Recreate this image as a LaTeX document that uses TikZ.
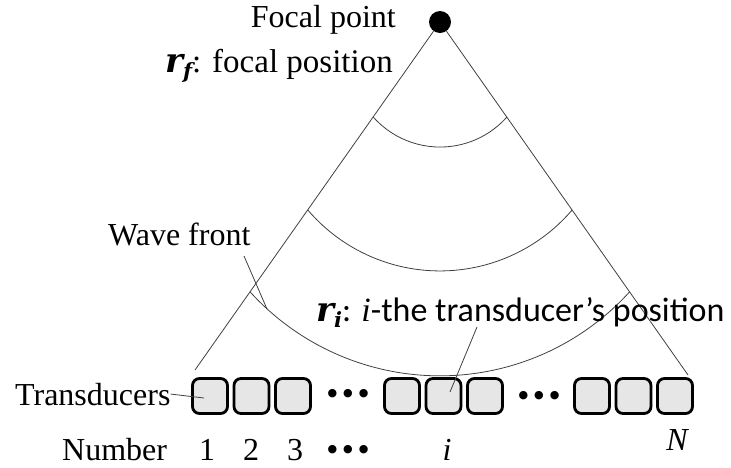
\documentclass[tikz,border=0pt]{standalone}
\usepackage{fontspec}
\setmainfont{Liberation Serif}
\newfontfamily\calib{Carlito}
\newfontfamily\mathbi{DejaVu Serif}
\newfontfamily\djv{DejaVu Sans}
\definecolor{boxfill}{HTML}{E6E6E6}
\definecolor{linegray}{HTML}{404040}
\newcommand{\vecr}[1]{{\mathbi\bfseries\itshape\fontsize{34}{34}\selectfont r}\raisebox{-6pt}{\mathbi\bfseries\itshape\fontsize{21}{21}\selectfont #1}}
\newcommand{\threedots}{●\hspace{6pt}●\hspace{6pt}●}
\begin{document}
\begin{tikzpicture}[x=1pt,y=1pt,
  thinline/.style={draw=linegray, line width=0.8pt},
  tbox/.style={draw=black, line width=2.8pt, fill=boxfill, rounded corners=7pt,
    minimum width=35pt, minimum height=35pt, inner sep=0pt},
  lbl/.style={font=\fontsize{32}{38}\selectfont, inner sep=0pt},
  sanslbl/.style={font=\calib\fontsize{34}{40}\selectfont, inner sep=0pt},
  dotrow/.style={font=\djv\fontsize{11}{12}\selectfont, inner sep=0pt, anchor=base}]
\useasboundingbox (0,0) rectangle (731,-467);

% focal point
\node[circle, fill=black, minimum size=22pt, inner sep=0pt] (focal) at (440,-22) {};
\coordinate (lend) at (195,-370);
\coordinate (rend) at (688,-375);
\draw[thinline] (focal) -- (lend);
\draw[thinline] (focal) -- (rend);

% wave fronts
\draw[thinline] (373.2,-117) arc[start angle=221.6, end angle=318.4, radius=89.4];
\draw[thinline] (307.8,-210) arc[start angle=220.5, end angle=319.5, radius=173.8];
\draw[thinline] (250.2,-292) arc[start angle=222.3, end angle=317.7, radius=256.4];

% labels top
\node[lbl, anchor=base east] (fp) at (396,-27) {Focal point};
\node[lbl, anchor=base east, font=\fontsize{33}{38}\selectfont] (rf) at (393,-72) {\vecr{f}: focal position};
\node[lbl, anchor=base west] (wf) at (108,-245) {Wave front};
\coordinate (wfstart) at (244,-256);
\coordinate (wfend) at (267,-309);
\draw[thinline] (wfstart) -- (wfend);

\node[sanslbl, anchor=base west] (ri) at (316,-321) {\vecr{i}: {\rmfamily\itshape i}-the transducer’s position};

% transducers
\node[tbox] (t1) at (210,-396) {};
\node[tbox] (t2) at (251.5,-396) {};
\node[tbox] (t3) at (293,-396) {};
\node[tbox] (ti1) at (402,-396) {};
\node[tbox] (ti) at (443.5,-396) {};
\node[tbox] (ti2) at (485,-396) {};
\node[tbox] (tn2) at (592,-396) {};
\node[tbox] (tn1) at (633.5,-396) {};
\node[tbox] (tn) at (675,-396) {};
\node[dotrow] (dA) at (348,-396.5) {\threedots};
\node[dotrow] (dB) at (539,-398.5) {\threedots};

\node[lbl, anchor=base west] (tr) at (15,-405) {Transducers};
\coordinate (trend) at (204,-398);
\draw[thinline] (tr.east) -- (trend);

\coordinate (ristart) at (477,-327);
\coordinate (riend) at (450,-392);
\draw[thinline] (ristart) -- (riend);

% numbers
\node[lbl, anchor=base west] (num) at (62,-460) {Number};
\node[lbl, anchor=base] (n1) at (207,-460) {1};
\node[lbl, anchor=base] (n2) at (251,-460) {2};
\node[lbl, anchor=base] (n3) at (295,-460) {3};
\node[dotrow] (dC) at (348,-452.5) {\threedots};
\node[lbl, anchor=base] (ni) at (447,-460) {\itshape i};
\node[lbl, anchor=base] (nN) at (677,-450) {\itshape N};
\end{tikzpicture}
\end{document}
